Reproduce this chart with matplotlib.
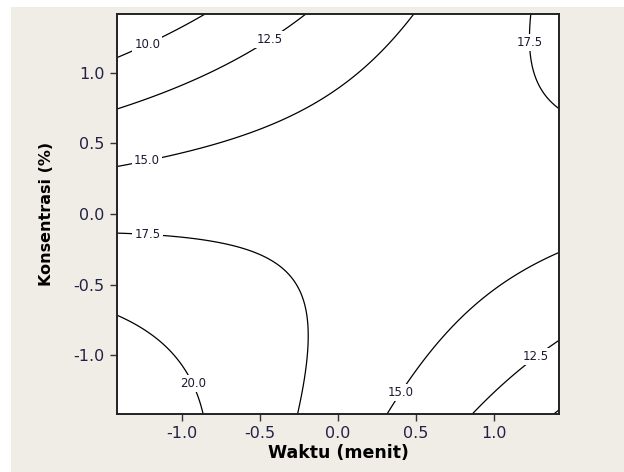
import numpy as np
import matplotlib
matplotlib.use("Agg")
import matplotlib.pyplot as plt
from matplotlib.patches import Rectangle

# points: waktu (x), konsentrasi (y), level
pt_x = [-1.414, -0.84,
        -1.414, -1.06, -0.21,
        -1.414, -1.03, -0.115, 0.48,
        1.23, 1.25, 1.414,
        -1.414, -0.58, -0.26, -0.19, -0.26,
        -1.414, -1.00, -0.87,
        0.32, 0.78, 1.414,
        0.87, 1.10, 1.414]
pt_y = [1.105, 1.414,
        0.746, 0.88, 1.414,
        0.34, 0.42, 0.81, 1.414,
        1.414, 1.04, 0.75,
        -0.13, -0.25, -0.53, -0.88, -1.414,
        -0.72, -1.06, -1.414,
        -1.414, -0.74, -0.27,
        -1.414, -1.14, -0.90]
pt_z = [10.0, 10.0,
        12.5, 12.5, 12.5,
        15.0, 15.0, 15.0, 15.0,
        17.5, 17.5, 17.5,
        17.5, 17.5, 17.5, 17.5, 17.5,
        20.0, 20.0, 20.0,
        15.0, 15.0, 15.0,
        12.5, 12.5, 12.5]

levels = [10.0, 12.5, 15.0, 17.5, 20.0]
label_pos = [(-1.22, 1.20), (-0.45, 1.25), (-1.22, 0.37), (1.22, 1.21),
             (-1.22, -0.15), (-0.95, -1.21), (0.39, -1.25), (1.26, -1.0)]
xticks = [-1.0, -0.5, 0.0, 0.5, 1.0]
yticks = [-1.0, -0.5, 0.0, 0.5, 1.0]

# fit a second-order response surface through the read points
px, py, pz = np.array(pt_x), np.array(pt_y), np.array(pt_z)
A = np.column_stack([np.ones_like(px), px, py, px**2, py**2, px * py])
coef, *_ = np.linalg.lstsq(A, pz, rcond=None)

lim = 1.414
gx, gy = np.meshgrid(np.linspace(-lim, lim, 300), np.linspace(-lim, lim, 300))
gz = (coef[0] + coef[1] * gx + coef[2] * gy + coef[3] * gx**2
      + coef[4] * gy**2 + coef[5] * gx * gy)

bg = "#f0ece6"
fig = plt.figure(figsize=(6.24, 4.72), dpi=100, facecolor=bg)
# thin white strips along top and left edge
fig.patches.append(Rectangle((0, 1 - 7 / 472), 1, 7 / 472, transform=fig.transFigure,
                             facecolor="white", edgecolor="none", zorder=0))
fig.patches.append(Rectangle((0, 0), 11 / 624, 1, transform=fig.transFigure,
                             facecolor="white", edgecolor="none", zorder=0))

ax = fig.add_axes([117 / 624, 58 / 472, 442 / 624, 400 / 472])
ax.set_facecolor("white")

cs = ax.contour(gx, gy, gz, levels=levels, colors="black", linewidths=0.9)
labels = ax.clabel(cs, fmt="%.1f", fontsize=8.5, inline=False, manual=label_pos)
for t in labels:
    t.set_rotation(0)
    t.set_color("#1a1a33")
    t.set_zorder(5)
    t.set_bbox(dict(facecolor="white", edgecolor="none", pad=1.5))

ax.set_xlim(-lim, lim)
ax.set_ylim(-lim, lim)
ax.set_xticks(xticks)
ax.set_yticks(yticks)
ax.set_xticklabels([f"{t:.1f}" for t in xticks])
ax.set_yticklabels([f"{t:.1f}" for t in yticks])
ax.tick_params(direction="out", length=5, width=1, labelsize=11.5, colors="#333333",
               labelcolor="#222244", pad=4)
for s in ax.spines.values():
    s.set_linewidth(1.4)
    s.set_color("#222222")

ax.set_xlabel("Waktu (menit)", fontsize=12.5, fontweight="bold", labelpad=2)
ax.set_ylabel("Konsentrasi (%)", fontsize=11.5, fontweight="bold", labelpad=14)

fig.savefig("out.png", dpi=100, facecolor=bg)
